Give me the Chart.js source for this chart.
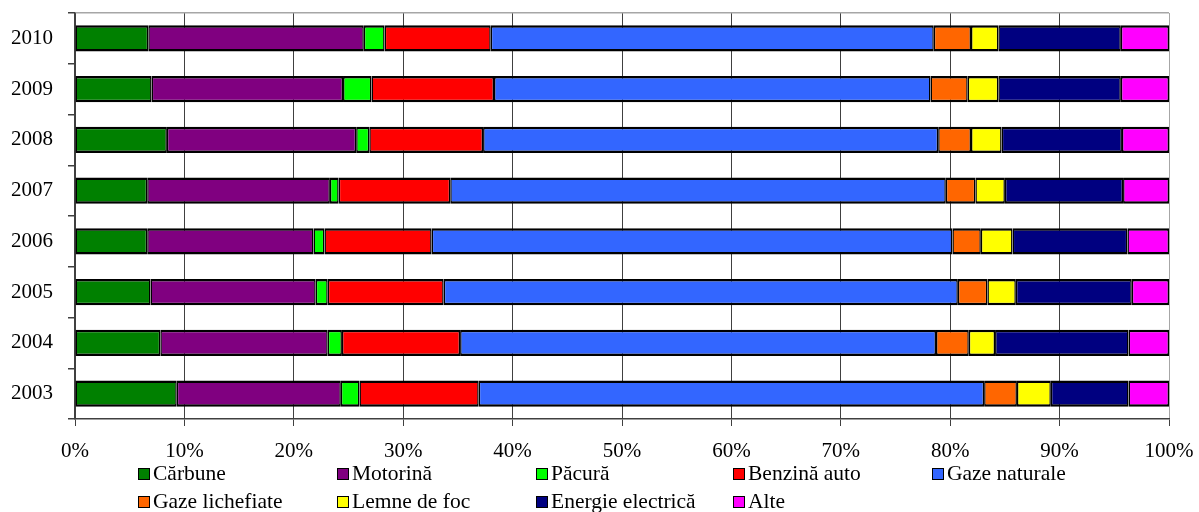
<!DOCTYPE html>
<html>
<head>
<meta charset="utf-8">
<script src="https://cdn.jsdelivr.net/npm/chart.js@4/dist/chart.umd.min.js"></script>
<style>
  html, body { margin: 0; padding: 0; background: #fff; }
  #wrap { position: relative; width: 1199px; height: 512px; }
  #chart { position: absolute; left: 0; top: 0; }
  .item { position: absolute; font: 21.5px/21px "Liberation Serif", "Times New Roman", serif; color: #000; white-space: nowrap; }
  .box { position: absolute; left: 0; top: 4.6px; width: 10px; height: 10px; border: 1px solid #000; }
  .txt { position: absolute; left: 15px; top: 0; }
</style>
</head>
<body>
<div id="wrap">
  <canvas id="chart" width="1199" height="512"></canvas>
  <div id="legend"></div>
</div>
<script>
// Consumption structure by source, share of total (%), per year
const years = ['2010', '2009', '2008', '2007', '2006', '2005', '2004', '2003'];

const carbune        = [6.7, 7.0, 8.4, 6.6, 6.6, 6.9, 7.8, 9.3];
const motorina       = [19.7, 17.5, 17.3, 16.7, 15.2, 15.1, 15.3, 15.0];
const pacura         = [1.9, 2.6, 1.2, 0.8, 1.0, 1.1, 1.3, 1.7];
const benzinaAuto    = [9.7, 11.2, 10.4, 10.2, 9.8, 10.6, 10.8, 10.9];
const gazeNaturale   = [40.5, 39.9, 41.6, 45.3, 47.6, 47.0, 43.5, 46.2];
const gazeLichefiate = [3.4, 3.4, 3.0, 2.7, 2.6, 2.7, 3.0, 3.0];
const lemneDeFoc     = [2.5, 2.8, 2.8, 2.7, 2.9, 2.6, 2.4, 3.1];
const energieElectr  = [11.2, 11.2, 11.0, 10.8, 10.5, 10.6, 12.2, 7.1];
const alte           = [4.4, 4.4, 4.3, 4.2, 3.8, 3.4, 3.7, 3.7];

const seriesNames = ['Cărbune', 'Motorină', 'Păcură', 'Benzină auto', 'Gaze naturale',
                     'Gaze lichefiate', 'Lemne de foc', 'Energie electrică', 'Alte'];
const seriesData = [carbune, motorina, pacura, benzinaAuto, gazeNaturale,
                    gazeLichefiate, lemneDeFoc, energieElectr, alte];
const seriesColors = ['#008000', '#800080', '#00FF00', '#FF0000', '#3366FF',
                      '#FF6600', '#FFFF00', '#000080', '#FF00FF'];

const xTicks = [0, 10, 20, 30, 40, 50, 60, 70, 80, 90, 100];

const FONT = { family: '"Liberation Serif", "Times New Roman", serif', size: 21 };
const AXIS_DARK = '#404040';
const AXIS_LIGHT = '#a6a6a6';

const datasets = seriesNames.map((name, i) => ({
  label: name,
  data: seriesData[i],
  backgroundColor: seriesColors[i],
  borderColor: '#000',
  borderWidth: { top: 2.5, bottom: 2.5, left: 1.5, right: 1.5 },
  borderSkipped: false,
  barPercentage: 0.52,
  categoryPercentage: 1.0
}));

new Chart(document.getElementById('chart'), {
  type: 'bar',
  data: { labels: years, datasets },
  options: {
    indexAxis: 'y',
    responsive: false,
    animation: false,
    layout: { padding: { top: 13, right: 30, left: 0, bottom: 0 } },
    plugins: { legend: { display: false }, tooltip: { enabled: false } },
    scales: {
      x: {
        stacked: true,
        min: 0,
        max: 100,
        afterBuildTicks: (scale) => { scale.ticks = xTicks.map(v => ({ value: v })); },
        afterFit: (scale) => {
          scale.height = 93;
          scale.paddingLeft = 0;
          scale.paddingRight = 0;
        },
        ticks: {
          callback: (v) => v + '%',
          font: FONT,
          color: '#000',
          padding: 13,
          autoSkip: false,
          maxRotation: 0
        },
        grid: {
          color: (ctx) => (ctx.tick && ctx.tick.value === 100) ? AXIS_LIGHT : AXIS_DARK,
          lineWidth: 1,
          tickLength: 7,
          tickColor: AXIS_DARK
        },
        border: { color: AXIS_DARK, width: 1.5 }
      },
      y: {
        stacked: true,
        afterFit: (scale) => {
          scale.width = 75;
          scale.paddingTop = 0;
          scale.paddingBottom = 0;
        },
        ticks: { font: FONT, color: '#000', padding: 15 },
        grid: {
          offset: true,
          color: (ctx) => ctx.index === 0 ? AXIS_LIGHT : 'rgba(0,0,0,0)',
          lineWidth: 1.5,
          tickLength: 7,
          tickColor: AXIS_DARK
        },
        border: { color: AXIS_DARK, width: 1.5 }
      }
    }
  }
});

// Legend: two rows laid out in fixed columns below the axis
const legendCols = [138, 337, 536, 733, 932];
const legendRows = [463.4, 491.4];
const legend = document.getElementById('legend');
seriesNames.forEach((name, i) => {
  const item = document.createElement('div');
  item.className = 'item';
  item.style.left = legendCols[i % 5] + 'px';
  item.style.top = legendRows[Math.floor(i / 5)] + 'px';
  const box = document.createElement('span');
  box.className = 'box';
  box.style.background = seriesColors[i];
  const txt = document.createElement('span');
  txt.className = 'txt';
  txt.textContent = name;
  item.appendChild(box);
  item.appendChild(txt);
  legend.appendChild(item);
});
</script>
</body>
</html>
